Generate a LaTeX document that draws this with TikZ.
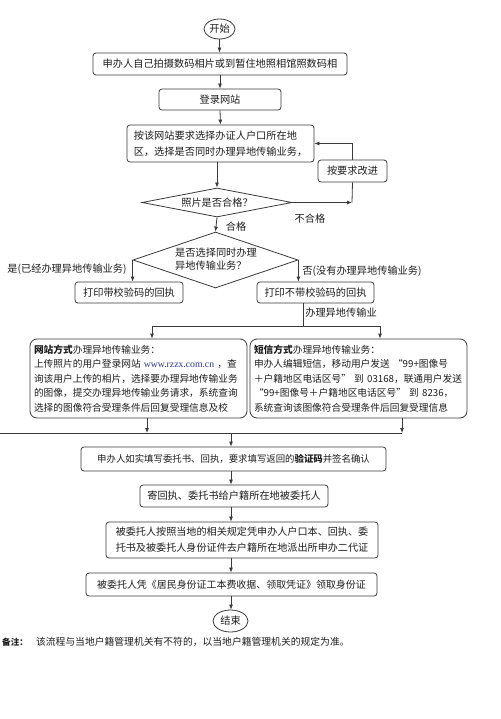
\documentclass[tikz,border=0pt]{standalone}
\usepackage{fontspec}
\setmainfont{Noto Sans CJK SC}
\usetikzlibrary{shapes.geometric,arrows.meta}
\definecolor{lncol}{HTML}{3A3A3A}
\definecolor{txcol}{HTML}{1E1E1E}
\definecolor{urlblue}{HTML}{2B3A8F}
\begin{document}
\begin{tikzpicture}[x=1pt,y=-1pt,
  font=\fontsize{10.2}{13}\selectfont,
  box/.style={draw=lncol, line width=0.8pt, rounded corners=3pt, inner sep=0pt, text=txcol, align=center},
  bigbox/.style={draw=lncol, line width=0.8pt, rounded corners=7pt, inner xsep=4pt, inner ysep=0pt, text=txcol, align=left,
     text width=209pt, minimum height=79pt, font=\fontsize{9.7}{14.5}\selectfont},
  term/.style={draw=lncol, ellipse, line width=0.8pt, inner sep=0pt, text=txcol},
  dia/.style={draw=lncol, diamond, line width=0.8pt, inner sep=0pt},
  arr/.style={draw=lncol, line width=0.8pt, -{Latex[length=5pt,width=4pt]}},
  conn/.style={draw=lncol, line width=0.8pt},
  lbl/.style={inner sep=0pt, text=txcol}]
\useasboundingbox (0,0) rectangle (500,719);
\fill[white] (0,0) rectangle (500,719);

% nodes
\node[term, minimum width=31pt, minimum height=20pt] (start) at (219.5,29) {开始};
\node[box, minimum width=254pt, minimum height=22pt] (b1) at (220,64) {申办人自己拍摄数码相片或到暂住地照相馆照数码相};
\node[box, minimum width=122pt, minimum height=21pt] (b2) at (220,99.5) {登录网站};
\node[box, minimum width=187pt, minimum height=37pt, align=left, font=\fontsize{10.2}{16}\selectfont] (b3) at (220.5,143.5) {按该网站要求选择办证人户口所在地\\区，选择是否同时办理异地传输业务，};
\node[dia, minimum width=150pt, minimum height=29pt] (d1) at (217,202.5) {};
\node[lbl] (d1t) at (d1.center) {照片是否合格？};
\node[box, minimum width=69pt, minimum height=22pt] (fix) at (352.5,171) {按要求改进};
\coordinate (c1) at (352,202.5);
\node[dia, minimum width=165pt, minimum height=56pt] (d2) at (215.5,260) {};
\node[lbl, align=left, font=\fontsize{10.2}{13}\selectfont] (d2t) at (216,259) {是否选择同时办理\\异地传输业务？};
\node[box, minimum width=108pt, minimum height=21pt] (p1) at (129,292.5) {打印带校验码的回执};
\node[box, minimum width=117pt, minimum height=21pt] (p2) at (315.5,292.5) {打印不带校验码的回执};

\node[bigbox] (web) at (138.5,378.5) {\textbf{网站方式}办理异地传输业务：\\
上传照片的用户登录网站 \textcolor{urlblue}{\fontspec{Liberation Serif}www.rzzx.com.cn} ，查\\
询该用户上传的相片，选择要办理异地传输业务\\
的图像，提交办理异地传输业务请求，系统查询\\
选择的图像符合受理条件后回复受理信息及校};
\node[bigbox] (sms) at (358.5,378.5) {\textbf{短信方式}办理异地传输业务：\\
申办人编辑短信，移动用户发送 “99+图像号\\
＋户籍地区电话区号” 到 03168，联通用户发送\\
“99+图像号＋户籍地区电话区号” 到 8236，\\
系统查询该图像符合受理条件后回复受理信息};

\node[box, minimum width=305pt, minimum height=24pt, font=\fontsize{9.4}{12}\selectfont] (b4) at (233.5,459) {申办人如实填写委托书、回执，要求填写返回的\textbf{验证码}并签名确认};
\node[box, minimum width=188pt, minimum height=22pt] (b5) at (234,496) {寄回执、委托书给户籍所在地被委托人};
\node[box, minimum width=272pt, minimum height=36pt, align=left, font=\fontsize{10.1}{16}\selectfont] (b6) at (242,540) {被委托人按照当地的相关规定凭申办人户口本、回执、委\\托书及被委托人身份证件去户籍所在地派出所申办二代证};
\node[box, minimum width=291pt, minimum height=23pt, font=\fontsize{9.95}{12}\selectfont] (b7) at (231.5,584.5) {被委托人凭《居民身份证工本费收据、领取凭证》领取身份证};
\node[term, minimum width=35pt, minimum height=22pt] (end) at (230.5,621) {结束};

\node[lbl, anchor=west, font=\fontsize{9.8}{12}\selectfont] (note) at (2,642) {{\fontsize{8.6}{12}\selectfont\textbf{备注：}}\hspace{8pt}该流程与当地户籍管理机关有不符的，以当地户籍管理机关的规定为准。};

% labels
\node[lbl] (lno) at (310,219) {不合格};
\node[lbl] (lok) at (236,227) {合格};
\node[lbl] (lyes) at (67,269) {是(已经办理异地传输业务)};
\node[lbl] (lnot) at (362,271) {否(没有办理异地传输业务)};
\node[lbl] (ltr) at (341,313) {办理异地传输业};

% connectors
\draw[arr] (start.south) -- (start.south |- b1.north);
\draw[arr] (b1.south) -- (b2.north);
\draw[arr] (b2.south) -- (b3.north);
\draw[arr] (d1.north |- b3.south) -- (d1.north);
\draw[arr] (d1.east) -- (c1);
\draw[conn] (c1) -- (fix.south);
\draw[arr] (fix.north) |- (b3.east);
\draw[arr] (d1.south) -- (d2.north);
\draw[arr] (d2.west) -- (d2.west |- p1.north);
\draw[arr] (d2.east) -- (d2.east |- p2.north);

\coordinate (j1) at (303,326);
\coordinate (j1L) at (152,326);
\coordinate (j1R) at (380,326);
\draw[conn] (j1 |- p2.south) -- (j1);
\draw[conn] (j1L) -- (j1R);
\draw[arr] (j1L) -- (j1L |- web.north);
\draw[arr] (j1R) -- (j1R |- sms.north);

\coordinate (jl) at (0,433);
\coordinate (a1) at (147,433);
\coordinate (a2) at (402,433);
\coordinate (jm) at (231,433);
\draw[conn] (jl) -- (a2);
\draw[arr] (a1 |- web.south) -- (a1);
\draw[arr] (a2 |- sms.south) -- (a2);
\draw[arr] (jm) -- (jm |- b4.north);
\draw[arr] (jm |- b4.south) -- (jm |- b5.north);
\draw[arr] (jm |- b5.south) -- (jm |- b6.north);
\draw[arr] (jm |- b6.south) -- (jm |- b7.north);
\draw[arr] (jm |- b7.south) -- (jm |- end.north);
\end{tikzpicture}
\end{document}
